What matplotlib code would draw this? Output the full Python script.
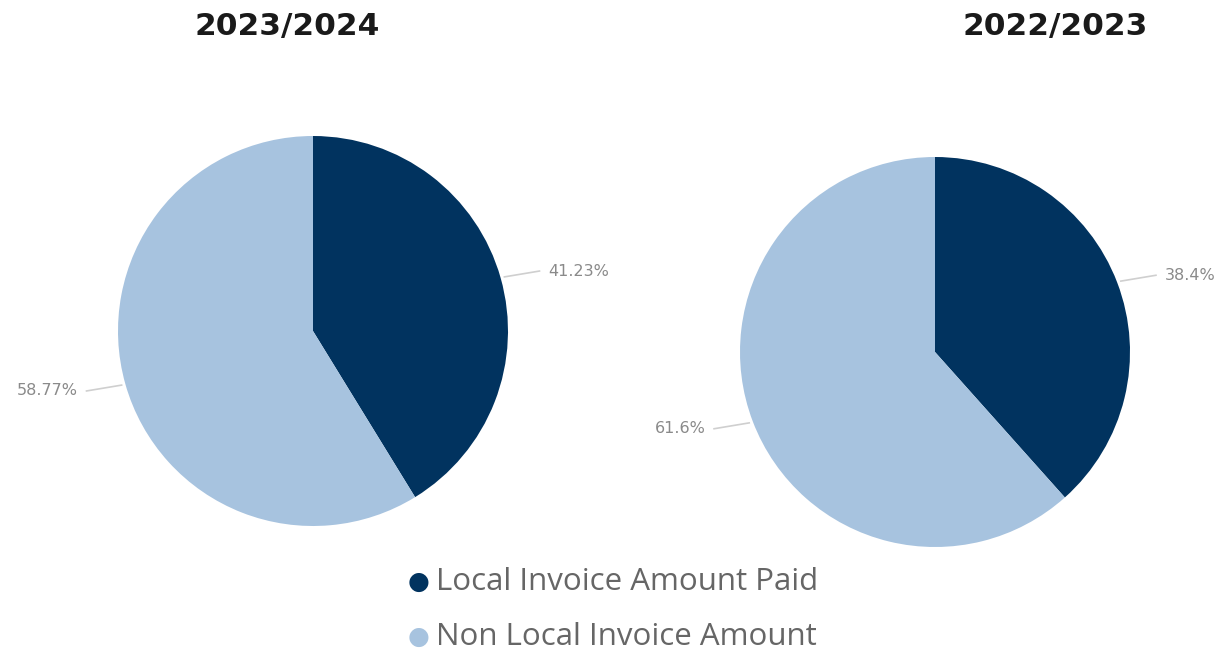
import numpy as np
import matplotlib.pyplot as plt

# chart data
years = ['2023/2024', '2022/2023']
categories = ['Local Invoice Amount Paid', 'Non Local Invoice Amount']
local_pct = [41.23, 38.4]
nonlocal_pct = [58.77, 61.6]
pct_labels = [['41.23%', '58.77%'], ['38.4%', '61.6%']]

colors = ['#01335f', '#a7c3df']
W, H = 1226, 657

fig = plt.figure(figsize=(W / 100, H / 100), dpi=100)

# pie centers / radius in pixels
centers = [(313, 331), (935, 352)]
R = 195
title_x = [287, 1055]

for i in range(2):
    cx, cy = centers[i]
    ax = fig.add_axes([(cx - R) / W, (H - cy - R) / H, 2 * R / W, 2 * R / H])
    vals = [local_pct[i], nonlocal_pct[i]]
    wedges, _ = ax.pie(vals, colors=colors, startangle=90, counterclock=False,
                       radius=1, wedgeprops=dict(linewidth=0))
    ax.set_xlim(-1, 1)
    ax.set_ylim(-1, 1)
    ax.set_aspect('equal')
    ax.axis('off')

    # leader lines + percent labels
    for w, lab in zip(wedges, pct_labels[i]):
        ang = np.deg2rad((w.theta1 + w.theta2) / 2)
        c, s = np.cos(ang), np.sin(ang)
        sx = np.sign(c)
        p0 = (1.02 * c, 1.02 * s)
        p1 = (p0[0] + 0.18 * sx, p0[1] + 0.03 * np.sign(s))
        ax.plot([p0[0], p1[0]], [p0[1], p1[1]], color='#cfcfcf', lw=1.2,
                clip_on=False)
        ha = 'left' if c > 0 else 'right'
        tx = p1[0] + 0.045 * sx
        ax.text(tx, p1[1], lab, ha=ha, va='center', fontsize=11.5,
                color='#8a8a8a', family='DejaVu Sans')

    fig.text(title_x[i] / W, 1 - 27 / H, years[i], ha='center', va='center',
             fontsize=22.5, fontweight='bold', color='#1a1a1a', family='DejaVu Sans')

# legend
leg_y = [582, 637]
for cat, col, y in zip(categories, colors, leg_y):
    fig.text(419 / W, 1 - y / H, '\u25cf', ha='center', va='center',
             fontsize=18, color=col, family='DejaVu Sans')
    fig.text(436 / W, 1 - y / H, cat, ha='left', va='center',
             fontsize=22.5, color='#666666', family='Open Sans')

fig.savefig('out.png', dpi=100, facecolor='white')
